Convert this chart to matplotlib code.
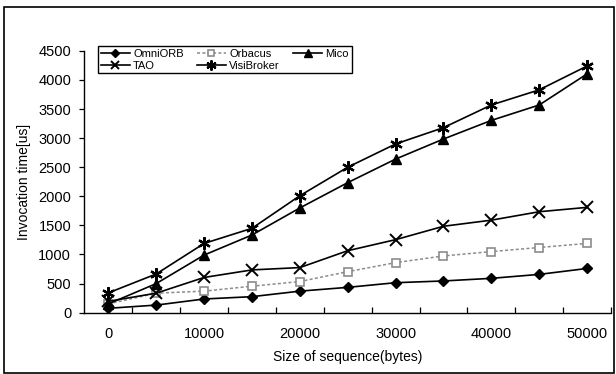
import numpy as np
import matplotlib
matplotlib.use('Agg')
import matplotlib.pyplot as plt
from matplotlib.patches import Rectangle
from matplotlib.ticker import MultipleLocator, FixedLocator

plt.rcParams['font.family'] = ['Liberation Sans', 'DejaVu Sans']

# message size in bytes
sizes = [0, 5000, 10000, 15000, 20000, 25000, 30000, 35000, 40000, 45000, 50000]

# invocation time [us]
omniorb = [75, 130, 235, 275, 370, 435, 515, 545, 590, 658, 760]
orbacus = [150, 335, 370, 455, 535, 705, 860, 975, 1050, 1120, 1190]
mico = [150, 500, 990, 1335, 1800, 2235, 2640, 2985, 3305, 3570, 4105]
tao = [195, 335, 605, 735, 775, 1065, 1255, 1485, 1590, 1735, 1810]
visibroker = [340, 665, 1190, 1450, 2010, 2500, 2900, 3180, 3570, 3830, 4240]

fig = plt.figure(figsize=(6.16, 3.74), dpi=100)
ax = fig.add_axes([0.137, 0.164, 0.855, 0.700])

kw = dict(color='black', linewidth=1.2)
l_omni, = ax.plot(sizes, omniorb, marker='D', markersize=5.5, label='OmniORB', **kw)
l_orb, = ax.plot(sizes, orbacus, marker='s', markersize=6, color='#8c8c8c',
                 markerfacecolor='white', markeredgecolor='#8c8c8c',
                 markeredgewidth=1.2, linestyle=(0, (2, 1.5)), linewidth=1.1,
                 label='Orbacus')
l_mico, = ax.plot(sizes, mico, marker='^', markersize=7, label='Mico', **kw)
l_tao, = ax.plot(sizes, tao, marker='x', markersize=8, markeredgewidth=1.4,
                 label='TAO', **kw)
l_visi, = ax.plot(sizes, visibroker, marker=(6, 2, 0), markersize=9,
                  markeredgewidth=1.6, label='VisiBroker', **kw)

ax.set_xlim(-2500, 52500)
ax.set_ylim(0, 4500)
ax.xaxis.set_major_locator(MultipleLocator(10000))
ax.xaxis.set_minor_locator(FixedLocator(np.arange(2500, 52501, 5000)))
ax.yaxis.set_major_locator(MultipleLocator(500))
ax.tick_params(axis='x', which='major', length=0, pad=10, labelsize=10.5)
ax.tick_params(axis='x', which='minor', direction='in', length=4, width=0.9)
ax.tick_params(axis='y', which='major', direction='out', length=3.5, width=0.9,
               labelsize=10.5, pad=6)

for side in ('top', 'right'):
    ax.spines[side].set_visible(False)
for side in ('left', 'bottom'):
    ax.spines[side].set_linewidth(1.0)

ax.set_xlabel('Size of sequence(bytes)', fontsize=10, labelpad=7)
ax.set_ylabel('Invocation time[us]', fontsize=10)
ax.yaxis.set_label_coords(-0.101, 0.5)

handles = [l_omni, l_tao, l_orb, l_visi, l_mico]
leg = ax.legend(handles=handles, labels=[h.get_label() for h in handles],
                ncol=3, loc='upper left', bbox_to_anchor=(0.026, 1.018),
                borderaxespad=0, fontsize=8, frameon=True, fancybox=False,
                edgecolor='black', framealpha=1, handlelength=2.6,
                handletextpad=0.3, columnspacing=1.2, labelspacing=0.15,
                borderpad=0.25, markerscale=0.8)
leg.get_frame().set_linewidth(1.0)

fig.patches.append(Rectangle((0.006, 0.004), 0.99, 0.978, transform=fig.transFigure,
                             fill=False, edgecolor='black', linewidth=1.2))

fig.savefig('out.png', dpi=100)
